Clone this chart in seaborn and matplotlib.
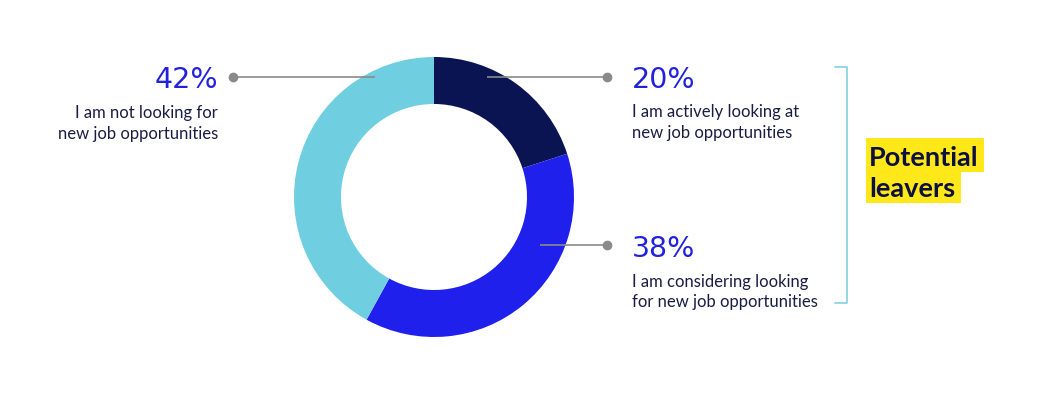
import matplotlib
matplotlib.use("Agg")
import matplotlib.pyplot as plt
from matplotlib.patches import Rectangle
import seaborn as sns

sns.set_theme(style="white")
plt.rcParams['font.family'] = ['Lato', 'DejaVu Sans']

# data
categories = ["I am actively looking at\nnew job opportunities",
              "I am considering looking\nfor new job opportunities",
              "I am not looking for\nnew job opportunities"]
values = [20, 38, 42]
pct_labels = ["20%", "38%", "42%"]
colors = ["#0b1452", "#2020ec", "#6fcfe1"]

W, H = 1044, 394
fig = plt.figure(figsize=(W / 100, H / 100), dpi=100)
ax = fig.add_axes([0, 0, 1, 1])

def Y(y):
    return H - y

cx, cy = 434, 197
ax.pie(values, colors=colors, startangle=90, counterclock=False,
       center=(cx, Y(cy)), radius=140,
       wedgeprops=dict(width=47, linewidth=0))

ax.set_xlim(0, W)
ax.set_ylim(0, H)
ax.set_aspect('equal')
ax.axis('off')

num_col = "#2222dd"
txt_col = "#1b1c45"
line_col = "#8a8a8a"

# leader lines with dots
leaders = [((487, 77), (607, 77)), ((540, 245), (607, 245)), ((375, 77), (233, 77))]
for (x0, y0), (x1, y1) in leaders:
    ax.plot([x0, x1], [Y(y0), Y(y1)], color=line_col, lw=1.2, solid_capstyle='butt')
    ax.plot([x1], [Y(y1)], 'o', color=line_col, ms=6)

# labels
label_x = [(632, 'left'), (632, 'left'), (218, 'right')]
num_base = [88, 257, 88]
body_base = [117, 287, 118]
for lab, pct, (x, ha), nb, bb in zip(categories, pct_labels, label_x, num_base, body_base):
    ax.text(x, Y(nb), pct, ha=ha, va='baseline', fontsize=20.5, color=num_col,
            family=['DejaVu Sans'])
    for i, line in enumerate(lab.split("\n")):
        ax.text(x, Y(bb + 20.5 * i), line, ha=ha, va='baseline', fontsize=12, color=txt_col)

# bracket
bc = "#86d0e2"
ax.plot([835, 847, 847, 835], [Y(67), Y(67), Y(303), Y(303)], color=bc, lw=1.2)

# Potential leavers highlight
yel = "#ffe81a"
ax.add_patch(Rectangle((866, Y(172)), 118, 34, facecolor=yel, edgecolor='none'))
ax.add_patch(Rectangle((866, Y(203)), 95, 31.5, facecolor=yel, edgecolor='none'))
for word, y in [("Potential", 166), ("leavers", 197)]:
    ax.text(869, Y(y), word, ha='left', va='baseline', fontsize=19.5, color="#0b1040",
            fontweight='bold')

fig.savefig("out.png", dpi=100, facecolor='white')
